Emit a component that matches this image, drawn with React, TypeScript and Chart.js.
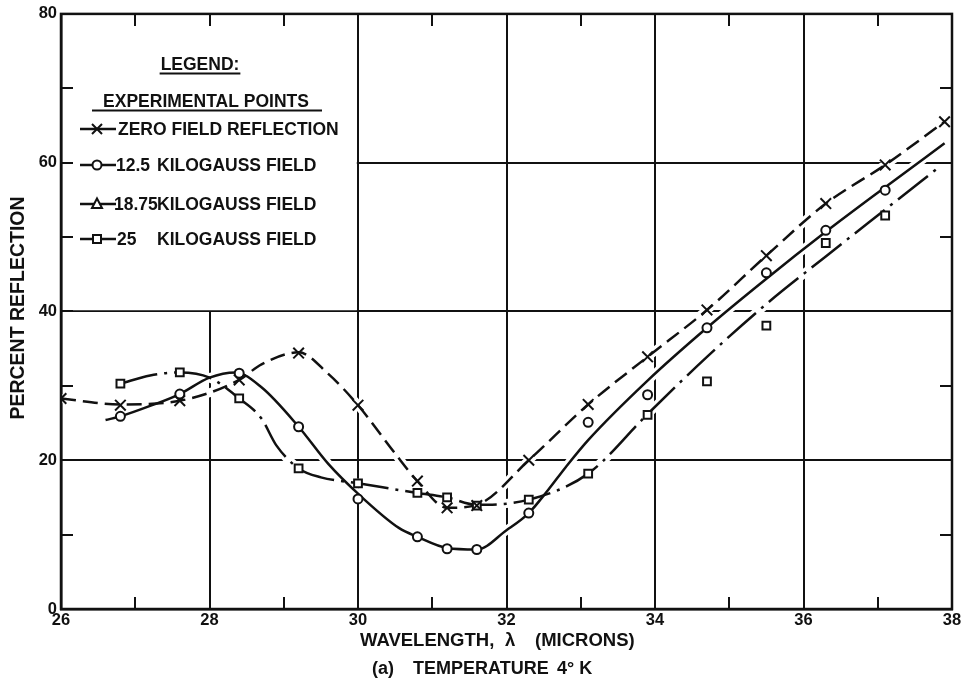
import { useEffect, useRef } from 'react';
import { Chart, registerables } from 'chart.js';

Chart.register(...registerables);

const FONT = '"Liberation Sans", Arial, Helvetica, sans-serif';
const INK = '#111111';

// Experimental points: percent reflection vs wavelength (microns), 4 K
const zeroFieldWavelength = [26.0, 26.8, 27.6, 28.4, 29.2, 30.0, 30.8, 31.2, 31.6, 32.3, 33.1, 33.9, 34.7, 35.5, 36.3, 37.1, 37.9];
const zeroFieldReflection = [28.3, 27.4, 28.0, 30.8, 34.4, 27.4, 17.2, 13.6, 13.9, 20.0, 27.5, 33.9, 40.2, 47.5, 54.5, 59.7, 65.5];

const fieldWavelength = [26.8, 27.6, 28.4, 29.2, 30.0, 30.8, 31.2, 31.6, 32.3, 33.1, 33.9, 34.7, 35.5, 36.3, 37.1];
const field125Reflection = [25.9, 28.9, 31.7, 24.5, 14.8, 9.7, 8.1, 8.0, 12.9, 25.1, 28.8, 37.8, 45.2, 50.9, 56.3];
const field25Reflection = [30.3, 31.8, 28.3, 18.9, 16.9, 15.6, 15.0, 13.9, 14.7, 18.2, 26.1, 30.6, 38.1, 49.2, 52.9];

// Faired curves drawn through the points
const zeroCurveWavelength = [26.0, 26.8, 27.6, 28.4, 28.7, 29.2, 29.6, 30.0, 30.5, 30.8, 31.2, 31.6, 32.3, 33.1, 33.9, 34.7, 35.5, 36.3, 37.1, 37.9];
const zeroCurveReflection = [28.3, 27.5, 28.0, 30.8, 32.9, 34.5, 31.6, 27.4, 20.9, 17.2, 13.6, 14.0, 20.0, 27.5, 33.9, 40.2, 47.5, 54.5, 59.7, 65.5];

const curve125Wavelength = [26.6, 26.8, 27.2, 27.6, 28.0, 28.35, 28.7, 29.2, 29.6, 30.0, 30.55, 30.8, 31.2, 31.6, 32.0, 32.3, 32.56, 32.8, 33.1, 33.9, 34.7, 35.5, 36.3, 37.1, 37.9];
const curve125Reflection = [25.4, 25.9, 27.3, 28.9, 31.1, 31.8, 29.8, 24.5, 19.5, 15.5, 10.9, 9.7, 8.2, 8.0, 10.6, 12.9, 16.0, 19.1, 22.7, 30.7, 37.8, 44.4, 50.7, 56.7, 62.6];

const curve25Wavelength = [26.8, 27.2, 27.6, 28.0, 28.4, 28.7, 28.9, 29.2, 29.5, 30.0, 30.8, 31.2, 31.6, 32.3, 33.1, 33.9, 34.7, 35.5, 36.3, 37.1, 37.8];
const curve25Reflection = [30.3, 31.4, 31.8, 31.1, 28.3, 25.6, 22.0, 18.9, 17.7, 16.9, 15.6, 15.0, 14.0, 14.7, 18.2, 26.2, 33.9, 41.0, 47.4, 53.7, 59.2];

// Axis ranges
const X_MIN = 26;
const X_MAX = 38;
const Y_MIN = 0;
const Y_MAX = 80;

// Region of the plot kept clear for the legend
const LEGEND_X = [26, 30];
const LEGEND_Y = [40, 80];

const pairs = (xs: number[], ys: number[]) => xs.map((x, i) => ({ x, y: ys[i] }));

const DASHED = [15, 7];
const DASH_DOT = [38, 7, 3, 7];

const curveSets = [
  { xs: zeroCurveWavelength, ys: zeroCurveReflection, dash: DASHED },
  { xs: curve125Wavelength, ys: curve125Reflection, dash: [] as number[] },
  { xs: curve25Wavelength, ys: curve25Reflection, dash: DASH_DOT },
];

type Marker = 'cross' | 'circle' | 'triangle' | 'square';

function drawMarker(ctx: CanvasRenderingContext2D, kind: Marker, cx: number, cy: number) {
  ctx.save();
  ctx.strokeStyle = INK;
  ctx.fillStyle = '#fff';
  ctx.lineWidth = 2;
  ctx.setLineDash([]);
  ctx.beginPath();
  if (kind === 'cross') {
    ctx.moveTo(cx - 5, cy - 5);
    ctx.lineTo(cx + 5, cy + 5);
    ctx.moveTo(cx + 5, cy - 5);
    ctx.lineTo(cx - 5, cy + 5);
    ctx.stroke();
  } else if (kind === 'circle') {
    ctx.arc(cx, cy, 4.5, 0, Math.PI * 2);
    ctx.fill();
    ctx.stroke();
  } else if (kind === 'triangle') {
    ctx.moveTo(cx, cy - 5.5);
    ctx.lineTo(cx + 5, cy + 4);
    ctx.lineTo(cx - 5, cy + 4);
    ctx.closePath();
    ctx.fill();
    ctx.stroke();
  } else {
    ctx.rect(cx - 4, cy - 4, 8, 8);
    ctx.fill();
    ctx.stroke();
  }
  ctx.restore();
}

const legendEntries: { marker: Marker; lead: string; rest: string; cy: number; leadX: number }[] = [
  { marker: 'cross', lead: 'ZERO FIELD REFLECTION', rest: '', cy: 129, leadX: 118 },
  { marker: 'circle', lead: '12.5', rest: 'KILOGAUSS FIELD', cy: 165, leadX: 116 },
  { marker: 'triangle', lead: '18.75', rest: 'KILOGAUSS FIELD', cy: 204, leadX: 114 },
  { marker: 'square', lead: '25', rest: 'KILOGAUSS FIELD', cy: 239, leadX: 117 },
];

const paperPlugin = {
  id: 'paper',
  beforeDatasetsDraw(chart: any) {
    const { ctx } = chart;
    const x = chart.scales.x;
    const y = chart.scales.y;
    // keep the legend corner free of grid lines
    const l = x.getPixelForValue(LEGEND_X[0]) + 2;
    const r = x.getPixelForValue(LEGEND_X[1]) - 1.2;
    const t = y.getPixelForValue(LEGEND_Y[1]) + 2;
    const b = y.getPixelForValue(LEGEND_Y[0]) - 1.2;
    ctx.save();
    ctx.fillStyle = '#fff';
    ctx.fillRect(l, t, r - l, b - t);
    ctx.restore();
  },
  afterDatasetsDraw(chart: any) {
    const { ctx, chartArea: a } = chart;
    const x = chart.scales.x;
    const y = chart.scales.y;
    ctx.save();
    ctx.strokeStyle = INK;
    ctx.setLineDash([]);

    // inward tick marks on all four sides
    ctx.lineWidth = 2;
    const TL = 12;
    ctx.beginPath();
    for (let v = X_MIN + 1; v < X_MAX; v += 1) {
      const px = Math.round(x.getPixelForValue(v));
      ctx.moveTo(px, a.top);
      ctx.lineTo(px, a.top + TL);
      ctx.moveTo(px, a.bottom);
      ctx.lineTo(px, a.bottom - TL);
    }
    for (let v = Y_MIN + 10; v < Y_MAX; v += 10) {
      const py = Math.round(y.getPixelForValue(v));
      ctx.moveTo(a.left, py);
      ctx.lineTo(a.left + TL, py);
      ctx.moveTo(a.right, py);
      ctx.lineTo(a.right - TL, py);
    }
    ctx.stroke();

    // frame
    ctx.lineWidth = 2.5;
    ctx.strokeRect(a.left, a.top, a.right - a.left, a.bottom - a.top);

    // legend
    ctx.fillStyle = INK;
    ctx.textBaseline = 'alphabetic';
    ctx.font = `bold 17.5px ${FONT}`;
    ctx.textAlign = 'center';
    ctx.fillText('LEGEND:', 200, 70);
    ctx.fillText('EXPERIMENTAL POINTS', 206, 107);
    ctx.lineWidth = 2;
    ctx.beginPath();
    const lw = ctx.measureText('LEGEND:').width;
    ctx.moveTo(200 - lw / 2 - 1, 73.5);
    ctx.lineTo(200 + lw / 2 + 1, 73.5);
    ctx.moveTo(92, 110.5);
    ctx.lineTo(322, 110.5);
    ctx.stroke();

    ctx.textBaseline = 'middle';
    ctx.textAlign = 'left';
    for (const e of legendEntries) {
      ctx.lineWidth = 2.5;
      ctx.beginPath();
      ctx.moveTo(80, e.cy);
      ctx.lineTo(116, e.cy);
      ctx.stroke();
      drawMarker(ctx, e.marker, 97, e.cy);
      ctx.fillStyle = INK;
      ctx.fillText(e.lead, e.leadX, e.cy + 1);
      if (e.rest) ctx.fillText(e.rest, 157, e.cy + 1);
    }

    // axis titles
    ctx.textBaseline = 'middle';
    ctx.font = `bold 18.5px ${FONT}`;
    ctx.textAlign = 'left';
    ctx.fillText('WAVELENGTH,', 360, 641);
    ctx.fillText('\u03bb', 505, 641);
    ctx.fillText('(MICRONS)', 535, 641);

    ctx.font = `bold 18px ${FONT}`;
    ctx.fillText('(a)', 372, 669);
    ctx.fillText('TEMPERATURE', 413, 669);
    ctx.fillText('4\u00b0 K', 557, 669);

    ctx.save();
    ctx.translate(18, 308);
    ctx.rotate(-Math.PI / 2);
    ctx.textAlign = 'center';
    ctx.font = `bold 19.5px ${FONT}`;
    ctx.fillText('PERCENT REFLECTION', 0, 1);
    ctx.restore();

    ctx.restore();
  },
};

export default function App() {
  const canvasRef = useRef<HTMLCanvasElement | null>(null);

  useEffect(() => {
    const canvas = canvasRef.current;
    if (!canvas) return;

    const halos = curveSets.map((c) => ({
      type: 'line' as const,
      data: pairs(c.xs, c.ys),
      borderColor: '#ffffff',
      borderWidth: 9,
      pointRadius: 0,
      cubicInterpolationMode: 'monotone' as const,
      order: 10,
    }));

    const curves = curveSets.map((c) => ({
      type: 'line' as const,
      data: pairs(c.xs, c.ys),
      borderColor: INK,
      borderWidth: 2.5,
      borderDash: c.dash,
      pointRadius: 0,
      cubicInterpolationMode: 'monotone' as const,
      order: 5,
    }));

    const markerBase = {
      type: 'line' as const,
      showLine: false,
      borderColor: INK,
      pointBorderColor: INK,
      pointBackgroundColor: '#ffffff',
      pointBorderWidth: 2,
    };

    const chart = new Chart(canvas, {
      type: 'line',
      data: {
        datasets: [
          ...halos,
          ...curves,
          {
            ...markerBase,
            label: '25 KILOGAUSS FIELD',
            data: pairs(fieldWavelength, field25Reflection),
            pointStyle: 'rect',
            pointRadius: 5.5,
            order: 3,
          },
          {
            ...markerBase,
            label: '12.5 KILOGAUSS FIELD',
            data: pairs(fieldWavelength, field125Reflection),
            pointStyle: 'circle',
            pointRadius: 4.5,
            order: 2,
          },
          {
            ...markerBase,
            label: 'ZERO FIELD REFLECTION',
            data: pairs(zeroFieldWavelength, zeroFieldReflection),
            pointStyle: 'crossRot',
            pointRadius: 7.5,
            order: 1,
          },
        ] as any,
      },
      options: {
        animation: false,
        responsive: false,
        devicePixelRatio: 1,
        layout: { padding: { left: 0, right: 12, top: 12, bottom: 0 } },
        plugins: {
          legend: { display: false },
          tooltip: { enabled: false },
        },
        events: [],
        scales: {
          x: {
            type: 'linear',
            min: X_MIN,
            max: X_MAX,
            ticks: {
              stepSize: 2,
              color: INK,
              padding: 2,
              font: { family: FONT, size: 16.5, weight: 'bold' },
            },
            grid: { color: INK, lineWidth: 2, drawTicks: false },
            border: { display: true, color: INK, width: 2.5 },
            afterFit: (s: any) => {
              s.height = 77;
            },
          },
          y: {
            type: 'linear',
            min: Y_MIN,
            max: Y_MAX,
            ticks: {
              stepSize: 20,
              color: INK,
              padding: 4,
              font: { family: FONT, size: 16.5, weight: 'bold' },
            },
            grid: { color: INK, lineWidth: 2, drawTicks: false },
            border: { display: true, color: INK, width: 2.5 },
            afterFit: (s: any) => {
              s.width = 61;
            },
          },
        },
      },
      plugins: [paperPlugin],
    });

    return () => chart.destroy();
  }, []);

  return (
    <div style={{ position: 'fixed', left: 0, top: 0, width: 964, height: 686, background: '#fff' }}>
      <canvas ref={canvasRef} width={964} height={686} style={{ display: 'block' }} />
    </div>
  );
}
